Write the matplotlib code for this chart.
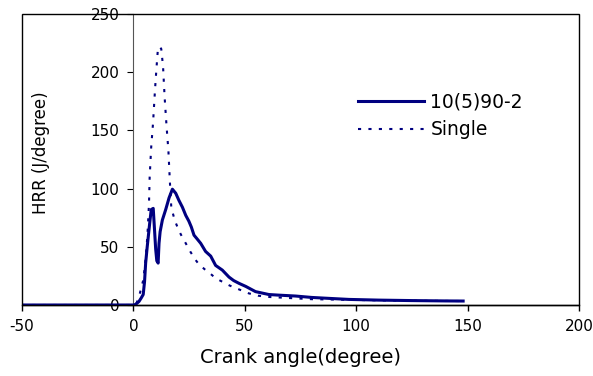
import matplotlib
matplotlib.use("Agg")
import matplotlib.pyplot as plt
from matplotlib.patches import Rectangle

plt.rcParams['font.family'] = ['DejaVu Sans']
plt.rcParams['axes.unicode_minus'] = False

# Series "10(5)90-2" (solid)
x_split = [-50, -10, 0, 1, 2.5, 3.5, 4.4, 5, 5.5, 6.2, 7.3, 8.0, 8.9, 9.5, 10.0, 10.5,
           11.1, 11.5, 12, 13, 14.5, 16, 17.5, 19, 20.4, 22, 23.5, 24.9, 26, 27.2, 28.5,
           30.2, 32.4, 34.7, 36.9, 39.9, 42.9, 45, 47.4, 50.4, 54.8, 60.8, 65, 72.8, 80,
           87.7, 96.7, 110, 125, 140, 148]
y_split = [0, 0, 0, 0.5, 3, 6, 9, 20, 36, 50, 70, 82, 83, 64, 48, 38,
           36, 53, 63, 73, 82, 92, 99.5, 96, 90, 84, 77, 72, 67, 60, 57,
           53, 46, 42, 34, 30, 24, 21, 18.6, 16, 11.5, 9, 8.5, 7.7, 6.5,
           5.7, 4.8, 4.2, 3.8, 3.5, 3.4]

# Series "Single" (dotted)
x_single = [-50, 0, 1.5, 2.5, 3.3, 4.5, 5.5, 6.3, 7.0, 7.3, 8.0, 8.8, 9.7, 10.3, 11,
            11.8, 12.5, 13.3, 14, 14.9, 15.7, 16.4, 17, 18.5, 20.4, 22, 23.5, 25.5,
            27.9, 29.4, 32.4, 33.9, 36.9, 38.4, 42.9, 44.4, 47.4, 51.8, 56, 60, 70,
            80, 95, 110, 130, 148]
y_single = [0, 0, 2, 7, 13, 22, 40, 60, 87, 110, 136, 156, 185, 202, 220,
            222, 220, 205, 179, 153, 133, 105, 84, 73, 64, 58, 53, 46,
            38.7, 35, 30, 28, 23, 21.5, 17, 15.7, 13.4, 10, 8, 7, 6,
            5, 4.5, 4, 3.6, 3.4]

labels = ["10(5)90-2", "Single"]
x_ticks = [-50, 0, 50, 100, 150, 200]
y_ticks = [0, 50, 100, 150, 200, 250]

color = '#000080'

fig = plt.figure(figsize=(5.93, 3.76), dpi=100)
ax = fig.add_axes([22/593, 1-305/376, (579-22)/593, (305-14)/376])

ax.plot(x_single, y_single, color=color, lw=1.5, linestyle=(0, (1.5, 3.5)), label=labels[1], zorder=2)
ax.plot(x_split, y_split, color=color, lw=2.2, label=labels[0], zorder=3, solid_joinstyle='round')

ax.set_xlim(-50, 200)
ax.set_ylim(0, 250)
ax.set_xticks(x_ticks)
ax.set_yticks(y_ticks)

for s in ['top', 'right']:
    ax.spines[s].set_visible(False)
ax.spines['bottom'].set_color('black')
ax.spines['bottom'].set_linewidth(1.0)
ax.spines['left'].set_position(('data', 0))
ax.spines['left'].set_color('#555555')
ax.spines['left'].set_linewidth(0.8)
ax.add_patch(Rectangle((0, 0), 1, 1, transform=ax.transAxes, fill=False,
                       edgecolor='black', lw=1.0, zorder=5, clip_on=False))

ax.tick_params(axis='x', direction='out', length=4, width=1, labelsize=11, pad=6)
ax.tick_params(axis='y', direction='out', length=4, width=0.8, labelsize=11, pad=6)

ax.set_xlabel("Crank angle(degree)", fontsize=14)
ax.xaxis.set_label_coords(0.5, -0.182)
ax.xaxis.label.set_va('center')
ax.set_ylabel("HRR (J/degree)", fontsize=12)
ax.yaxis.set_label_coords(0.034, 0.525)
ax.yaxis.label.set_va('center')

h, l = ax.get_legend_handles_labels()
leg = ax.legend([h[1], h[0]], [l[1], l[0]], loc='center left', bbox_to_anchor=(0.603, 0.649),
                frameon=False, fontsize=13.5, handlelength=3.55, handletextpad=0.32,
                labelspacing=0.45, borderpad=0, borderaxespad=0)

fig.savefig("out.png", dpi=100)
